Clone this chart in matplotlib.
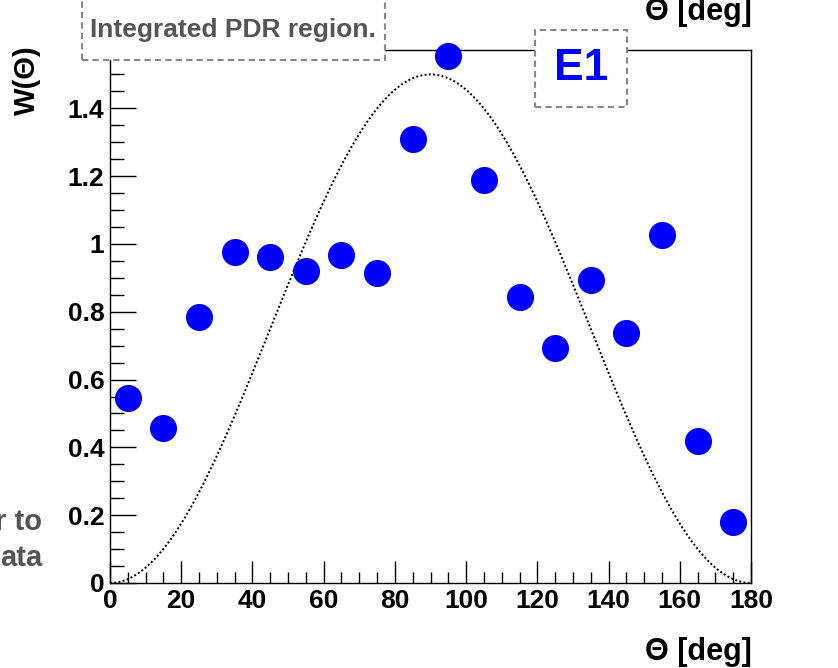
import numpy as np
import matplotlib
matplotlib.use("Agg")
import matplotlib.pyplot as plt
from matplotlib.patches import Rectangle
from matplotlib.ticker import MultipleLocator

# --- data ---
theta = [5, 15, 25, 35, 45, 55, 65, 75, 85, 95, 105, 115, 125, 135, 145, 155, 165, 175]
w_theta = [0.547, 0.456, 0.785, 0.976, 0.962, 0.921, 0.968, 0.915, 1.309, 1.555,
           1.188, 0.844, 0.694, 0.894, 0.738, 1.026, 0.418, 0.179]

# E1 (dipole) model curve: W = A * sin^2(theta)
e1_amplitude = 1.5

plt.rcParams["font.family"] = ["Liberation Sans", "DejaVu Sans"]
plt.rcParams["font.weight"] = "bold"

W, H = 838, 668
fig = plt.figure(figsize=(W / 100, H / 100), dpi=100)
ax = fig.add_axes([110 / W, 1 - 583 / H, (751 - 110) / W, (583 - 50) / H])

model_x = np.linspace(0, 180, 721)
model_y = e1_amplitude * np.sin(np.radians(model_x)) ** 2
ax.plot(model_x, model_y, color="black", lw=1.4, ls=(0, (1, 1.2)))
ax.plot(theta, w_theta, "o", color="#0000ff", ms=19.5, mec="none", clip_on=False, zorder=3)

ax.set_xlim(0, 180)
ax.set_ylim(0, 1.572)
ax.xaxis.set_major_locator(MultipleLocator(20))
ax.xaxis.set_minor_locator(MultipleLocator(5))
ax.yaxis.set_minor_locator(MultipleLocator(0.05))
ax.set_yticks(np.arange(0, 1.5, 0.2))
ax.set_yticklabels(["0", "0.2", "0.4", "0.6", "0.8", "1", "1.2", "1.4"])
ax.tick_params(which="both", direction="in", top=False, right=False, labelsize=19, width=1.0)
ax.tick_params(axis="x", which="major", length=16, pad=4)
ax.tick_params(axis="x", which="minor", length=8)
ax.tick_params(axis="y", which="major", length=19, pad=4)
ax.tick_params(axis="y", which="minor", length=10)
for s in ax.spines.values():
    s.set_linewidth(1.0)
for lab in ax.get_xticklabels() + ax.get_yticklabels():
    lab.set_fontweight("bold")

def px(x, y):
    return x / W, 1 - y / H

# axis titles (ROOT style, placed at the ends)
fig.text(*px(752, 652), "\u0398 [deg]", ha="right", va="center", fontsize=22, fontweight="bold")
fig.text(*px(752, 12), "\u0398 [deg]", ha="right", va="center", fontsize=22, fontweight="bold")
fig.text(*px(27, 80), "W(\u0398)", ha="center", va="center", rotation=90, fontsize=21, fontweight="bold")

# cut-off gray note at the left edge
fig.text(*px(42, 522), "r to", ha="right", va="center", fontsize=21, fontweight="bold", color="#555555")
fig.text(*px(42, 558), "ata", ha="right", va="center", fontsize=21, fontweight="bold", color="#555555")

# dashed boxes
box_kw = dict(transform=fig.transFigure, facecolor="white", edgecolor="#888888",
              lw=1.5, ls=(0, (3, 2)), zorder=5)
x0, y0 = px(82, 60)
x1, y1 = px(385, -10)
fig.add_artist(Rectangle((x0, y0), x1 - x0, y1 - y0, **box_kw))
fig.text(*px(233, 30), "Integrated PDR region.", ha="center", va="center", fontsize=19,
         fontweight="bold", color="#555555", zorder=6)

x0, y0 = px(535, 107)
x1, y1 = px(627, 30)
fig.add_artist(Rectangle((x0, y0), x1 - x0, y1 - y0, **box_kw))
fig.text(*px(581, 69), "E1", ha="center", va="center", fontsize=32,
         fontweight="bold", color="#0000ff", zorder=6)

fig.savefig("out.png", dpi=100)
